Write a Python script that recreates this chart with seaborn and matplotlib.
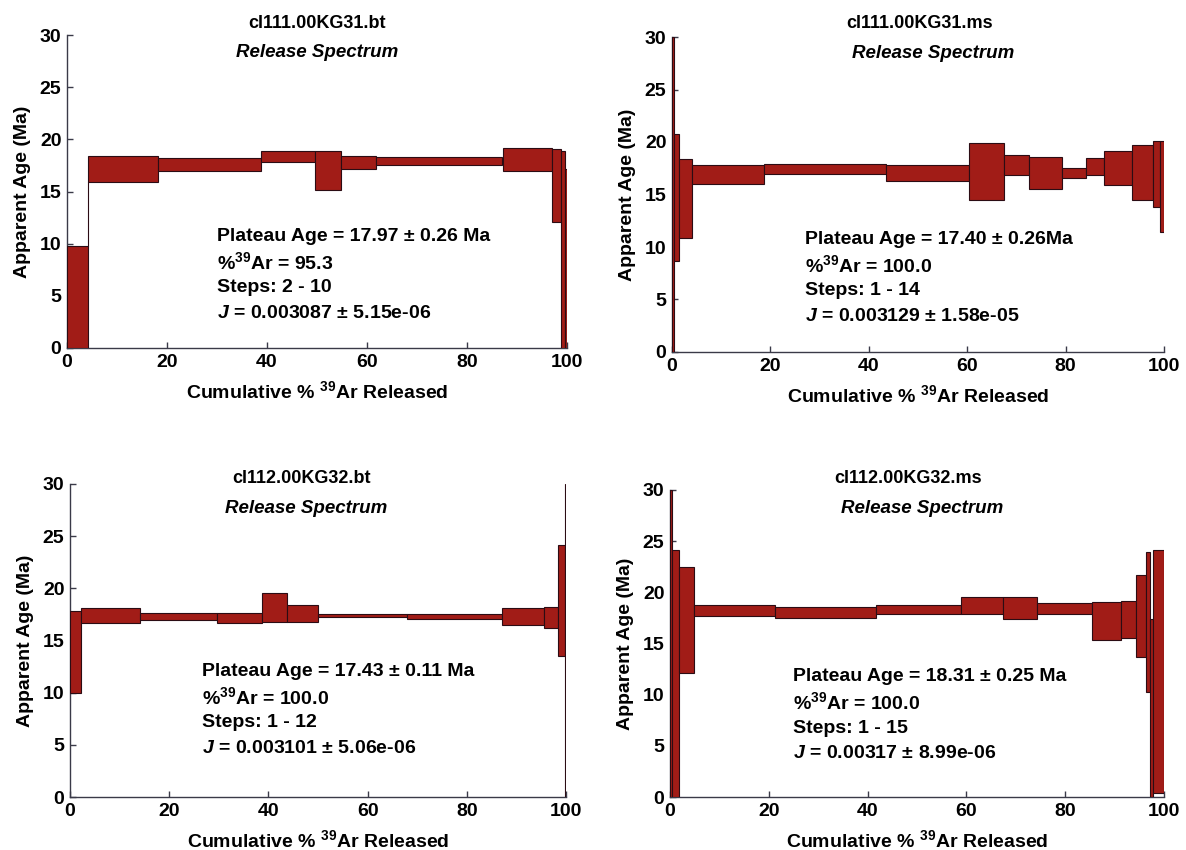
import matplotlib
matplotlib.use("Agg")
import matplotlib.pyplot as plt
import numpy as np
import seaborn as sns
from matplotlib.transforms import offset_copy

# ---- step-heating data: cumulative % 39Ar edges and apparent-age error boxes (Ma) ----
bt31_edges = [0, 4.2, 18.1, 38.8, 49.6, 54.7, 61.7, 87.1, 97.0, 98.7, 99.5, 100]
bt31_lo = [0, 15.9, 17.0, 17.8, 15.1, 17.2, 17.5, 17.0, 12.1, 0, 0]
bt31_hi = [9.8, 18.4, 18.2, 18.85, 18.85, 18.45, 18.3, 19.15, 19.1, 18.9, 17.2]

ms31_edges = [0, 0.4, 1.5, 4.0, 18.8, 43.5, 60.3, 67.4, 72.6, 79.2, 84.2, 87.9, 93.5, 97.7, 99.1, 100]
ms31_lo = [0, 8.7, 10.9, 16.0, 16.95, 16.3, 14.5, 16.9, 15.5, 16.6, 16.85, 15.95, 14.5, 13.85, 11.4]
ms31_hi = [30, 20.8, 18.35, 17.85, 17.95, 17.85, 19.95, 18.75, 18.6, 17.55, 18.5, 19.1, 19.75, 20.1, 20.1]

bt32_edges = [0, 2.3, 14.1, 29.6, 38.8, 43.8, 49.9, 67.9, 87.0, 95.5, 98.4, 99.7, 100]
bt32_lo = [10.0, 16.65, 16.95, 16.7, 16.75, 16.75, 17.25, 17.1, 16.5, 16.2, 13.55, 0]
bt32_hi = [17.85, 18.15, 17.6, 17.65, 19.55, 18.45, 17.55, 17.5, 18.15, 18.25, 24.2, 30]

ms32_edges = [0, 0.5, 1.8, 4.8, 21.2, 41.8, 59.0, 67.4, 74.3, 85.4, 91.3, 94.4, 96.4, 97.2, 97.8, 100]
ms32_lo = [0, 0, 12.15, 17.7, 17.45, 17.9, 17.85, 17.4, 17.85, 15.3, 15.5, 13.7, 10.25, 0, 0.4]
ms32_hi = [30, 24.15, 22.45, 18.8, 18.6, 18.8, 19.55, 19.55, 19.0, 19.1, 19.15, 21.7, 23.9, 17.4, 24.1]

sample_names = ["cl111.00KG31.bt", "cl111.00KG31.ms", "cl112.00KG32.bt", "cl112.00KG32.ms"]
plateau_lines = [
    ["Plateau Age = 17.97 \u00b1 0.26 Ma", "%$^{39}$Ar = 95.3", "Steps: 2 - 10",
     "$\\mathit{J}$ = 0.003087 \u00b1 5.15e-06"],
    ["Plateau Age = 17.40 \u00b1 0.26Ma", "%$^{39}$Ar = 100.0", "Steps: 1 - 14",
     "$\\mathit{J}$ = 0.003129 \u00b1 1.58e-05"],
    ["Plateau Age = 17.43 \u00b1 0.11 Ma", "%$^{39}$Ar = 100.0", "Steps: 1 - 12",
     "$\\mathit{J}$ = 0.003101 \u00b1 5.06e-06"],
    ["Plateau Age = 18.31 \u00b1 0.25 Ma", "%$^{39}$Ar = 100.0", "Steps: 1 - 15",
     "$\\mathit{J}$ = 0.00317 \u00b1 8.99e-06"],
]
x_ticks = [0, 20, 40, 60, 80, 100]
y_ticks = [0, 5, 10, 15, 20, 25, 30]

# ---- style ----
sns.set_theme(style="ticks")
FONT = "Liberation Sans"
plt.rcParams.update({
    "font.family": [FONT, "DejaVu Sans"],
    "font.weight": "bold",
    "text.color": "black",
    "axes.labelcolor": "black",
    "xtick.labelcolor": "black",
    "ytick.labelcolor": "black",
    "mathtext.fontset": "custom",
    "mathtext.rm": f"{FONT}:bold",
    "mathtext.bf": f"{FONT}:bold",
    "mathtext.it": f"{FONT}:italic:bold",
    "mathtext.default": "bf",
    "axes.edgecolor": "#3a3a48",
    "axes.linewidth": 1.0,
})

FILL = "#a11c17"
EDGE = "#2b0c14"

W, H = 1186, 850
fig = plt.figure(figsize=(W / 100, H / 100), dpi=100)
fig.patch.set_facecolor("white")

# panel layout in pixels: (left, bottom_y, width, height)
boxes_px = [(67, 348, 500, 313), (672, 352, 492, 315), (70, 797, 496, 313), (670, 797, 494, 307)]
title_pos = [((0.5, 1.036), (0.5, 0.943)), ((0.504, 1.042), (0.53, 0.949)),
             ((0.466, 1.016), (0.476, 0.923)), ((0.482, 1.036), (0.51, 0.941))]
text_pos = [(0.30, 0.355), (0.27, 0.356), (0.266, 0.40), (0.249, 0.391)]

samples = [(bt31_edges, bt31_lo, bt31_hi), (ms31_edges, ms31_lo, ms31_hi),
           (bt32_edges, bt32_lo, bt32_hi), (ms32_edges, ms32_lo, ms32_hi)]

for i, ((edges, lo, hi), (l, b, w, h)) in enumerate(zip(samples, boxes_px)):
    ax = fig.add_axes([l / W, (H - b) / H, w / W, h / H])
    edges = np.asarray(edges, float)
    lo = np.asarray(lo, float)
    hi = np.asarray(hi, float)
    ax.bar(edges[:-1], hi - lo, width=np.diff(edges), bottom=lo, align="edge",
           color=FILL, edgecolor=EDGE, linewidth=0.8, zorder=3)
    # connect consecutive steps whose error boxes do not overlap
    for k in range(1, len(lo)):
        top = min(hi[k - 1], hi[k])
        bot = max(lo[k - 1], lo[k])
        if top < bot:
            ax.plot([edges[k], edges[k]], [top, bot], color=EDGE, lw=0.8, zorder=3)

    ax.set_xlim(0, 100)
    ax.set_ylim(0, 30)
    ax.set_xticks(x_ticks)
    ax.set_yticks(y_ticks)
    ax.tick_params(direction="in", length=4, width=1, labelsize=14, pad=4,
                   colors="#3a3a48", labelcolor="black")
    for lab in ax.get_xticklabels() + ax.get_yticklabels():
        lab.set_fontweight("bold")
    sns.despine(ax=ax)

    ax.set_xlabel("Cumulative % $^{39}$Ar Released", fontsize=14, fontweight="bold", labelpad=7)
    ax.set_ylabel("Apparent Age (Ma)", fontsize=14, fontweight="bold", labelpad=6)

    (tx, ty), (rx, ry) = title_pos[i]
    ax.text(tx, ty, sample_names[i], transform=ax.transAxes, ha="center", va="center",
            fontsize=13, fontweight="bold")
    ax.text(rx, ry, "Release Spectrum", transform=ax.transAxes, ha="center", va="center",
            fontsize=13.5, fontweight="bold", fontstyle="italic")

    px, py = text_pos[i]
    for j, line in enumerate(plateau_lines[i]):
        tr = offset_copy(ax.transAxes, fig=fig, x=0, y=-18.4 * j, units="points")
        ax.text(px, py, line, transform=tr, ha="left", va="center", fontsize=14,
                fontweight="bold")

fig.savefig("out.png", dpi=100, facecolor="white")
